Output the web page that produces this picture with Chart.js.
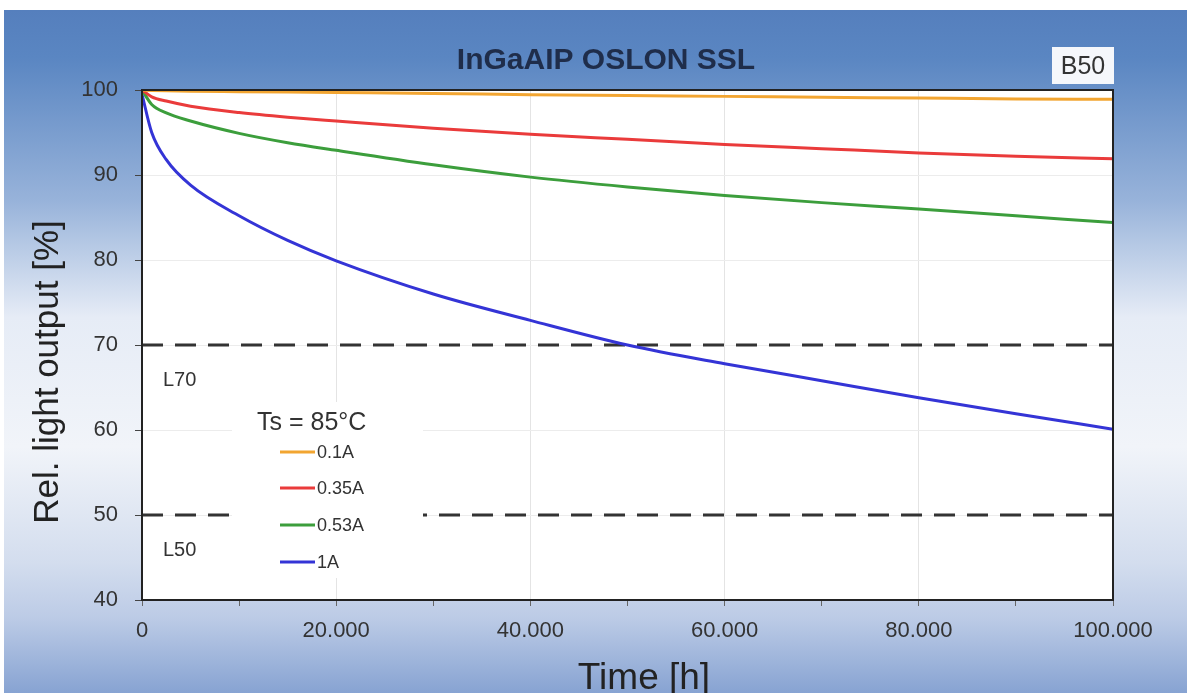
<!DOCTYPE html>
<html>
<head>
<meta charset="utf-8">
<script src="https://cdn.jsdelivr.net/npm/chart.js@4.4.1/dist/chart.umd.min.js"></script>
<style>
  html, body { margin: 0; padding: 0; background: #fff; }
  #chart { display: block; }
</style>
</head>
<body>
<canvas id="chart" width="1187" height="693"></canvas>
<script>
//////////////////////
// Data
//////////////////////
const hours = [0, 1000, 2500, 5000, 10000, 15000, 20000, 30000, 40000, 50000, 60000, 70000, 80000, 90000, 100000];

const out01A  = [100, 99.95, 99.9, 99.85, 99.8, 99.75, 99.7, 99.6, 99.45, 99.35, 99.25, 99.15, 99.05, 98.95, 98.9];
const out035A = [100, 99.2, 98.7, 98.1, 97.35, 96.8, 96.35, 95.5, 94.8, 94.2, 93.6, 93.1, 92.6, 92.2, 91.9];
const out053A = [100, 98.3, 97.3, 96.35, 94.9, 93.8, 92.9, 91.2, 89.75, 88.6, 87.6, 86.75, 86.0, 85.2, 84.4];
const out1A   = [99.5, 95.0, 91.8, 88.8, 85.2, 82.3, 79.9, 76.0, 72.9, 70.0, 67.8, 65.8, 63.8, 61.9, 60.1];

const seriesLabels = ['0.1A', '0.35A', '0.53A', '1A'];
const seriesValues = [out01A, out035A, out053A, out1A];
const seriesColors = ['#f2a531', '#ea3b3b', '#3c9e3c', '#3434d6'];

const limitValues = [70, 50];
const limitLabels = ['L70', 'L50'];

const FONT = "'Liberation Sans', Arial, sans-serif";

function fmtThousands(v) {
    return String(v).replace(/\B(?=(\d{3})+(?!\d))/g, '.');
}

//////////////////////
// Build datasets
//////////////////////
const datasets = seriesLabels.map((label, i) => ({
    label: label,
    data: hours.map((h, k) => ({ x: h, y: seriesValues[i][k] })),
    borderColor: seriesColors[i],
    borderWidth: 3,
    pointRadius: 0,
    cubicInterpolationMode: 'monotone',
    fill: false
}));

limitValues.forEach((v, i) => {
    datasets.push({
        label: limitLabels[i],
        data: [{ x: hours[0], y: v }, { x: hours[hours.length - 1], y: v }],
        borderColor: '#333',
        borderWidth: 3,
        borderDash: [21, 12],
        pointRadius: 0,
        fill: false
    });
});

//////////////////////
// Decorations: background, legend, titles, frame
//////////////////////
const decor = {
    id: 'decor',
    beforeDraw(chart) {
        const { ctx, chartArea: a, width, height } = chart;
        ctx.save();
        ctx.fillStyle = '#fff';
        ctx.fillRect(0, 0, width, height);
        const g = ctx.createLinearGradient(0, 10, 0, height);
        g.addColorStop(0.00, '#557fbd');
        g.addColorStop(0.07, '#5a86c2');
        g.addColorStop(0.28, '#98b3da');
        g.addColorStop(0.45, '#e6ecf6');
        g.addColorStop(0.64, '#f1f4f9');
        g.addColorStop(0.81, '#d3ddee');
        g.addColorStop(0.89, '#bccbe6');
        g.addColorStop(1.00, '#87a3d2');
        ctx.fillStyle = g;
        ctx.fillRect(4, 10, width - 4, height - 10);
        ctx.fillStyle = '#fff';
        ctx.fillRect(a.left, a.top, a.right - a.left, a.bottom - a.top);
        ctx.restore();
    },
    afterDatasetsDraw(chart) {
        const { ctx, scales } = chart;
        ctx.save();

        // legend box hides the L50 line behind it
        ctx.fillStyle = '#fff';
        ctx.fillRect(232, 402, 191, 176);

        ctx.fillStyle = '#333';
        ctx.textBaseline = 'middle';
        ctx.font = '25px ' + FONT;
        ctx.fillText('Ts = 85°C', 257, 423);

        const rows = [452, 488, 525, 562];
        ctx.font = '18px ' + FONT;
        seriesLabels.forEach((label, i) => {
            ctx.strokeStyle = seriesColors[i];
            ctx.lineWidth = 3;
            ctx.beginPath();
            ctx.moveTo(280, rows[i]);
            ctx.lineTo(315, rows[i]);
            ctx.stroke();
            ctx.fillStyle = '#333';
            ctx.fillText(label, 317, rows[i] + 1);
        });

        // limit labels under their lines
        ctx.font = '20px ' + FONT;
        limitValues.forEach((v, i) => {
            ctx.fillText(limitLabels[i], 163, scales.y.getPixelForValue(v) + 35);
        });
        ctx.restore();
    },
    afterDraw(chart) {
        const { ctx, chartArea: a } = chart;
        ctx.save();

        // plot frame
        ctx.strokeStyle = '#222';
        ctx.lineWidth = 2;
        ctx.strokeRect(a.left, a.top, a.right - a.left, a.bottom - a.top);

        // title
        ctx.fillStyle = '#1f2d4a';
        ctx.font = 'bold 30px ' + FONT;
        ctx.textAlign = 'center';
        ctx.textBaseline = 'alphabetic';
        ctx.fillText('InGaAIP OSLON SSL', 606, 69);

        // B50 box
        ctx.fillStyle = '#f5f7fb';
        ctx.fillRect(1052, 47, 62, 37);
        ctx.fillStyle = '#333';
        ctx.font = '25px ' + FONT;
        ctx.textBaseline = 'middle';
        ctx.fillText('B50', 1083, 67);

        // axis titles
        ctx.fillStyle = '#222';
        ctx.font = '37px ' + FONT;
        ctx.textBaseline = 'alphabetic';
        ctx.fillText('Time [h]', 644, 689);

        ctx.translate(48, 372);
        ctx.rotate(-Math.PI / 2);
        ctx.font = '35px ' + FONT;
        ctx.textBaseline = 'middle';
        ctx.fillText('Rel. light output [%]', 0, 0);
        ctx.restore();
    }
};

//////////////////////
// Chart
//////////////////////
const ctx = document.getElementById('chart').getContext('2d');

new Chart(ctx, {
    type: 'line',
    data: { datasets: datasets },
    options: {
        responsive: false,
        animation: false,
        devicePixelRatio: 1,
        layout: { padding: { top: 90, right: 74, left: 0, bottom: 0 } },
        plugins: {
            legend: { display: false },
            tooltip: { enabled: false },
            title: { display: false }
        },
        scales: {
            x: {
                type: 'linear',
                min: 0,
                max: 100000,
                afterFit(scale) { scale.height = 93; },
                ticks: {
                    stepSize: 10000,
                    autoSkip: false,
                    maxRotation: 0,
                    padding: 12,
                    color: '#333',
                    font: { family: FONT, size: 22 },
                    callback: v => (v % 20000 === 0 ? fmtThousands(v) : '')
                },
                grid: {
                    color: c => (c.tick && c.tick.value % 20000 === 0 ? '#e4e4e4' : 'rgba(0,0,0,0)'),
                    tickColor: '#666',
                    tickLength: 6
                },
                border: { color: '#222', width: 2 }
            },
            y: {
                min: 40,
                max: 100,
                afterFit(scale) { scale.width = 142; },
                ticks: {
                    stepSize: 10,
                    padding: 17,
                    color: '#333',
                    font: { family: FONT, size: 22 }
                },
                grid: {
                    color: '#ececec',
                    tickColor: '#444',
                    tickLength: 7
                },
                border: { color: '#222', width: 2 }
            }
        }
    },
    plugins: [decor]
});
</script>
</body>
</html>
